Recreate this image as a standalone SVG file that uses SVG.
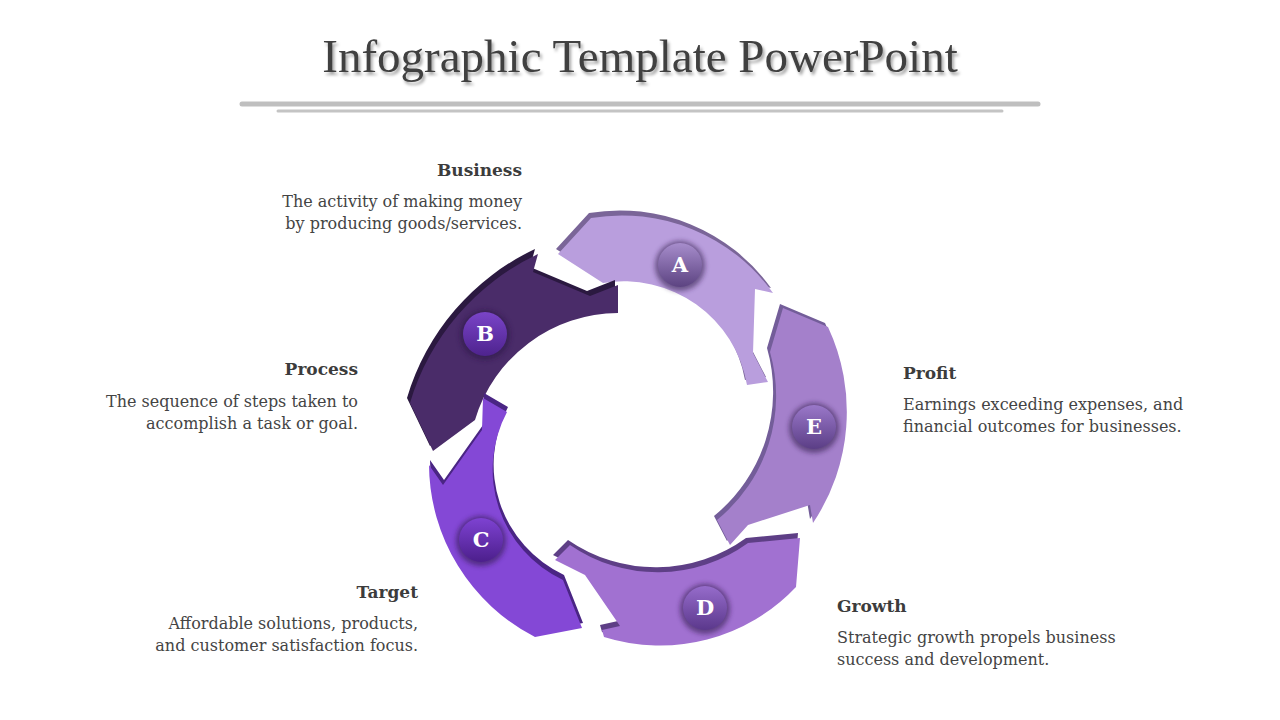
<svg xmlns="http://www.w3.org/2000/svg" xmlns:xlink="http://www.w3.org/1999/xlink" width="1280" height="720" viewBox="0 0 1280 720">
<style>
.title{font-family:"Liberation Serif","Times New Roman",serif;font-size:47px;fill:#404040;}
.hd{font-family:"DejaVu Serif",Georgia,serif;font-size:17px;font-weight:bold;fill:#3c3c3c;}
.bd{font-family:"DejaVu Serif",Georgia,serif;font-size:16px;fill:#444444;}
.lt{font-family:"DejaVu Serif",Georgia,serif;font-size:21px;font-weight:bold;fill:#ffffff;text-anchor:middle;}
.halo{fill:#2a1445;opacity:0.55;filter:url(#blur);}
</style>
<defs>
<filter id="tshadow" x="-5%" y="-30%" width="110%" height="160%">
<feDropShadow dx="2" dy="3" stdDeviation="1.8" flood-color="#000" flood-opacity="0.35"/>
</filter>
<filter id="blur" x="-50%" y="-50%" width="200%" height="200%"><feGaussianBlur stdDeviation="2.5"/></filter>
<linearGradient id="gA" x1="0" y1="0" x2="0" y2="1"><stop offset="0" stop-color="#a78dcc"/><stop offset="1" stop-color="#5c4381"/></linearGradient>
<linearGradient id="gB" x1="0" y1="0" x2="0" y2="1"><stop offset="0" stop-color="#7a44c8"/><stop offset="1" stop-color="#4e238e"/></linearGradient>
<linearGradient id="gC" x1="0" y1="0" x2="0" y2="1"><stop offset="0" stop-color="#7e42d2"/><stop offset="1" stop-color="#4c1f8c"/></linearGradient>
<linearGradient id="gD" x1="0" y1="0" x2="0" y2="1"><stop offset="0" stop-color="#966ccb"/><stop offset="1" stop-color="#5b388c"/></linearGradient>
<linearGradient id="gE" x1="0" y1="0" x2="0" y2="1"><stop offset="0" stop-color="#9a78c9"/><stop offset="1" stop-color="#5b3e86"/></linearGradient>
<path id="pA" d="M 558 254 L 591 218 A 186 186 0 0 1 773 293 L 755 289 L 753 353 L 768 382 L 747 385 A 125 125 0 0 0 603 283 Z"/>
<path id="pB" d="M 538 254 L 533 272 L 590 296 L 618 285 L 618 313 A 150 150 0 0 0 475 420 L 433 451 L 410 403 A 240 240 0 0 1 538 254 Z"/>
<path id="pC" d="M 483 398 L 507 412 A 122 122 0 0 0 563 580 L 582 628 L 535 637 A 195 195 0 0 1 429 465 L 443 485 L 482 430 Z"/>
<path id="pD" d="M 555 560 L 570 545 A 154 154 0 0 0 748 543 L 800 538 L 796 587 A 187 187 0 0 1 604 637 L 602 630 L 620 626 L 585 575 Z"/>
<path id="pE" d="M 783 308 L 828 327 A 200 200 0 0 1 813 523 L 810 505 L 748 525 L 730 545 L 717 520 A 160 160 0 0 0 770 352 Z"/>
</defs>
<rect width="1280" height="720" fill="#ffffff"/>

<g id="title">
<text class="title" x="640" y="72" text-anchor="middle" filter="url(#tshadow)">Infographic Template PowerPoint</text>
<line x1="242" y1="104" x2="1038" y2="104" stroke="#bfbfbf" stroke-width="5" stroke-linecap="round"/>
<line x1="278" y1="111" x2="1002" y2="111" stroke="#c4c4c4" stroke-width="3" stroke-linecap="round"/>
</g>

<g id="node-A">
<use xlink:href="#pA" href="#pA" fill="#7a6598" transform="translate(-2,-5)"/>
<use xlink:href="#pA" href="#pA" fill="#b99edd"/>
<circle class="halo" cx="680" cy="266" r="25"/>
<circle cx="680" cy="265" r="22" fill="url(#gA)"/>
<text class="lt" x="680" y="272">A</text>
</g>

<g id="node-B">
<use xlink:href="#pB" href="#pB" fill="#2b1940" transform="translate(-3,-5)"/>
<use xlink:href="#pB" href="#pB" fill="#4a2c69"/>
<circle class="halo" cx="485" cy="335" r="25"/>
<circle cx="485" cy="334" r="22" fill="url(#gB)"/>
<text class="lt" x="485" y="341">B</text>
</g>

<g id="node-C">
<use xlink:href="#pC" href="#pC" fill="#4a2584" transform="translate(1,-5)"/>
<use xlink:href="#pC" href="#pC" fill="#8448d6"/>
<circle class="halo" cx="481" cy="541" r="25"/>
<circle cx="481" cy="540" r="22" fill="url(#gC)"/>
<text class="lt" x="481" y="547">C</text>
</g>

<g id="node-D">
<use xlink:href="#pD" href="#pD" fill="#5e3f86" transform="translate(-2,-5)"/>
<use xlink:href="#pD" href="#pD" fill="#a171d1"/>
<circle class="halo" cx="705" cy="609" r="25"/>
<circle cx="705" cy="608" r="22" fill="url(#gD)"/>
<text class="lt" x="705" y="615">D</text>
</g>

<g id="node-E">
<use xlink:href="#pE" href="#pE" fill="#735d99" transform="translate(-3,-4)"/>
<use xlink:href="#pE" href="#pE" fill="#a480cb"/>
<circle class="halo" cx="814" cy="428" r="25"/>
<circle cx="814" cy="427" r="22" fill="url(#gE)"/>
<text class="lt" x="814" y="434">E</text>
</g>

<g id="label-business" text-anchor="end">
<text class="hd" x="522" y="176">Business</text>
<text class="bd" x="522" y="207">The activity of making money</text>
<text class="bd" x="522" y="229">by producing goods/services.</text>
</g>
<g id="label-process" text-anchor="end">
<text class="hd" x="358" y="375">Process</text>
<text class="bd" x="358" y="407">The sequence of steps taken to</text>
<text class="bd" x="358" y="429">accomplish a task or goal.</text>
</g>
<g id="label-target" text-anchor="end">
<text class="hd" x="418" y="598">Target</text>
<text class="bd" x="418" y="629">Affordable solutions, products,</text>
<text class="bd" x="418" y="651">and customer satisfaction focus.</text>
</g>
<g id="label-profit">
<text class="hd" x="903" y="379">Profit</text>
<text class="bd" x="903" y="410">Earnings exceeding expenses, and</text>
<text class="bd" x="903" y="432">financial outcomes for businesses.</text>
</g>
<g id="label-growth">
<text class="hd" x="837" y="612">Growth</text>
<text class="bd" x="837" y="643">Strategic growth propels business</text>
<text class="bd" x="837" y="665">success and development.</text>
</g>
</svg>
